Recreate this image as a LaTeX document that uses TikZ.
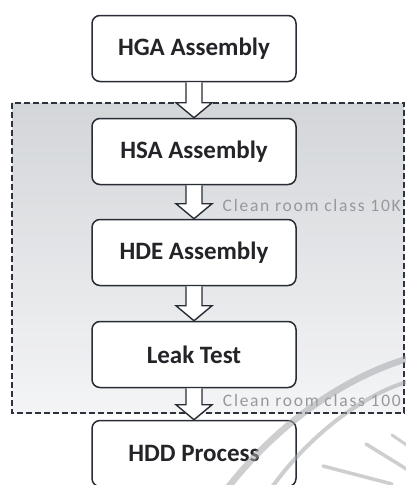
\documentclass[tikz,border=0pt]{standalone}
\usepackage{fontspec}
\setmainfont{Carlito}
\newfontfamily\zonefont[LetterSpace=10]{Carlito}
\definecolor{inkdark}{RGB}{40,44,52}
\definecolor{textdark}{RGB}{35,35,40}
\definecolor{labelgray}{RGB}{150,152,156}
\definecolor{markgray}{RGB}{165,167,171}
\definecolor{zonetop}{RGB}{204,207,211}
\definecolor{zonebottom}{RGB}{242,243,245}
\definecolor{dashink}{RGB}{45,50,60}
\begin{document}
\begin{tikzpicture}[x=1pt,y=-1pt,
  stepbox/.style={draw=inkdark, line width=1.5pt, fill=white,
    rounded corners=8pt, minimum width=204pt, minimum height=66pt, inner sep=0pt,
    font=\fontsize{25}{29}\selectfont\bfseries, text=textdark},
  roomlabel/.style={anchor=east, inner sep=0pt, font=\zonefont\fontsize{17.5}{20}\selectfont,
    text=labelgray},
  flowarrow/.style={draw=inkdark, line width=1.4pt, fill=white, line join=miter},
  watermark/.style={draw=markgray, line cap=round, opacity=0.55}
]
\useasboundingbox (0,0) rectangle (406,485);
\fill[white] (0,0) rectangle (406,485);

% clean room zone
\shade[top color=zonetop, bottom color=zonebottom, fill opacity=0.85]
  (12,103) rectangle (404,413);
\draw[dashink, line width=1.2pt, dash pattern=on 6pt off 3pt]
  (12,103) rectangle (404,413);

% process steps
\node[stepbox] (hga) at (194,48.5) {HGA Assembly};
\node[stepbox] (hsa) at (194,151.5) {HSA Assembly};
\node[stepbox] (hde) at (194,252.5) {HDE Assembly};
\node[stepbox] (leak) at (194,354.5) {Leak Test};
\node[stepbox] (hdd) at (194,453.5) {HDD Process};

% hollow block arrows between consecutive steps
\foreach \a/\b in {hga/hsa, hsa/hde, hde/leak, leak/hdd}{
  \path[flowarrow]
    ([xshift=-8pt]\a.south) -- ([xshift=-8pt,yshift=15pt]\b.north)
    -- ([xshift=-18pt,yshift=15pt]\b.north) -- (\b.north)
    -- ([xshift=18pt,yshift=15pt]\b.north) -- ([xshift=8pt,yshift=15pt]\b.north)
    -- ([xshift=8pt]\a.south);
}

\node[roomlabel] (c10k) at (401,205) {Clean room class 10K};
\node[roomlabel] (c100) at (401,400) {Clean room class 100};

% faint circular watermark over the lower right
\draw[watermark, line width=6.5pt] (410,358) .. controls (350,375) and (280,420) .. (226,490);
\draw[watermark, line width=4pt] (410,381) .. controls (360,395) and (305,440) .. (270,490);
\draw[watermark, line width=3.5pt] (323,466) -- (392,484);
\draw[watermark, line width=3.5pt] (366,444) -- (408,470);
\draw[watermark, line width=3pt] (392,435) -- (408,446);
\end{tikzpicture}
\end{document}
